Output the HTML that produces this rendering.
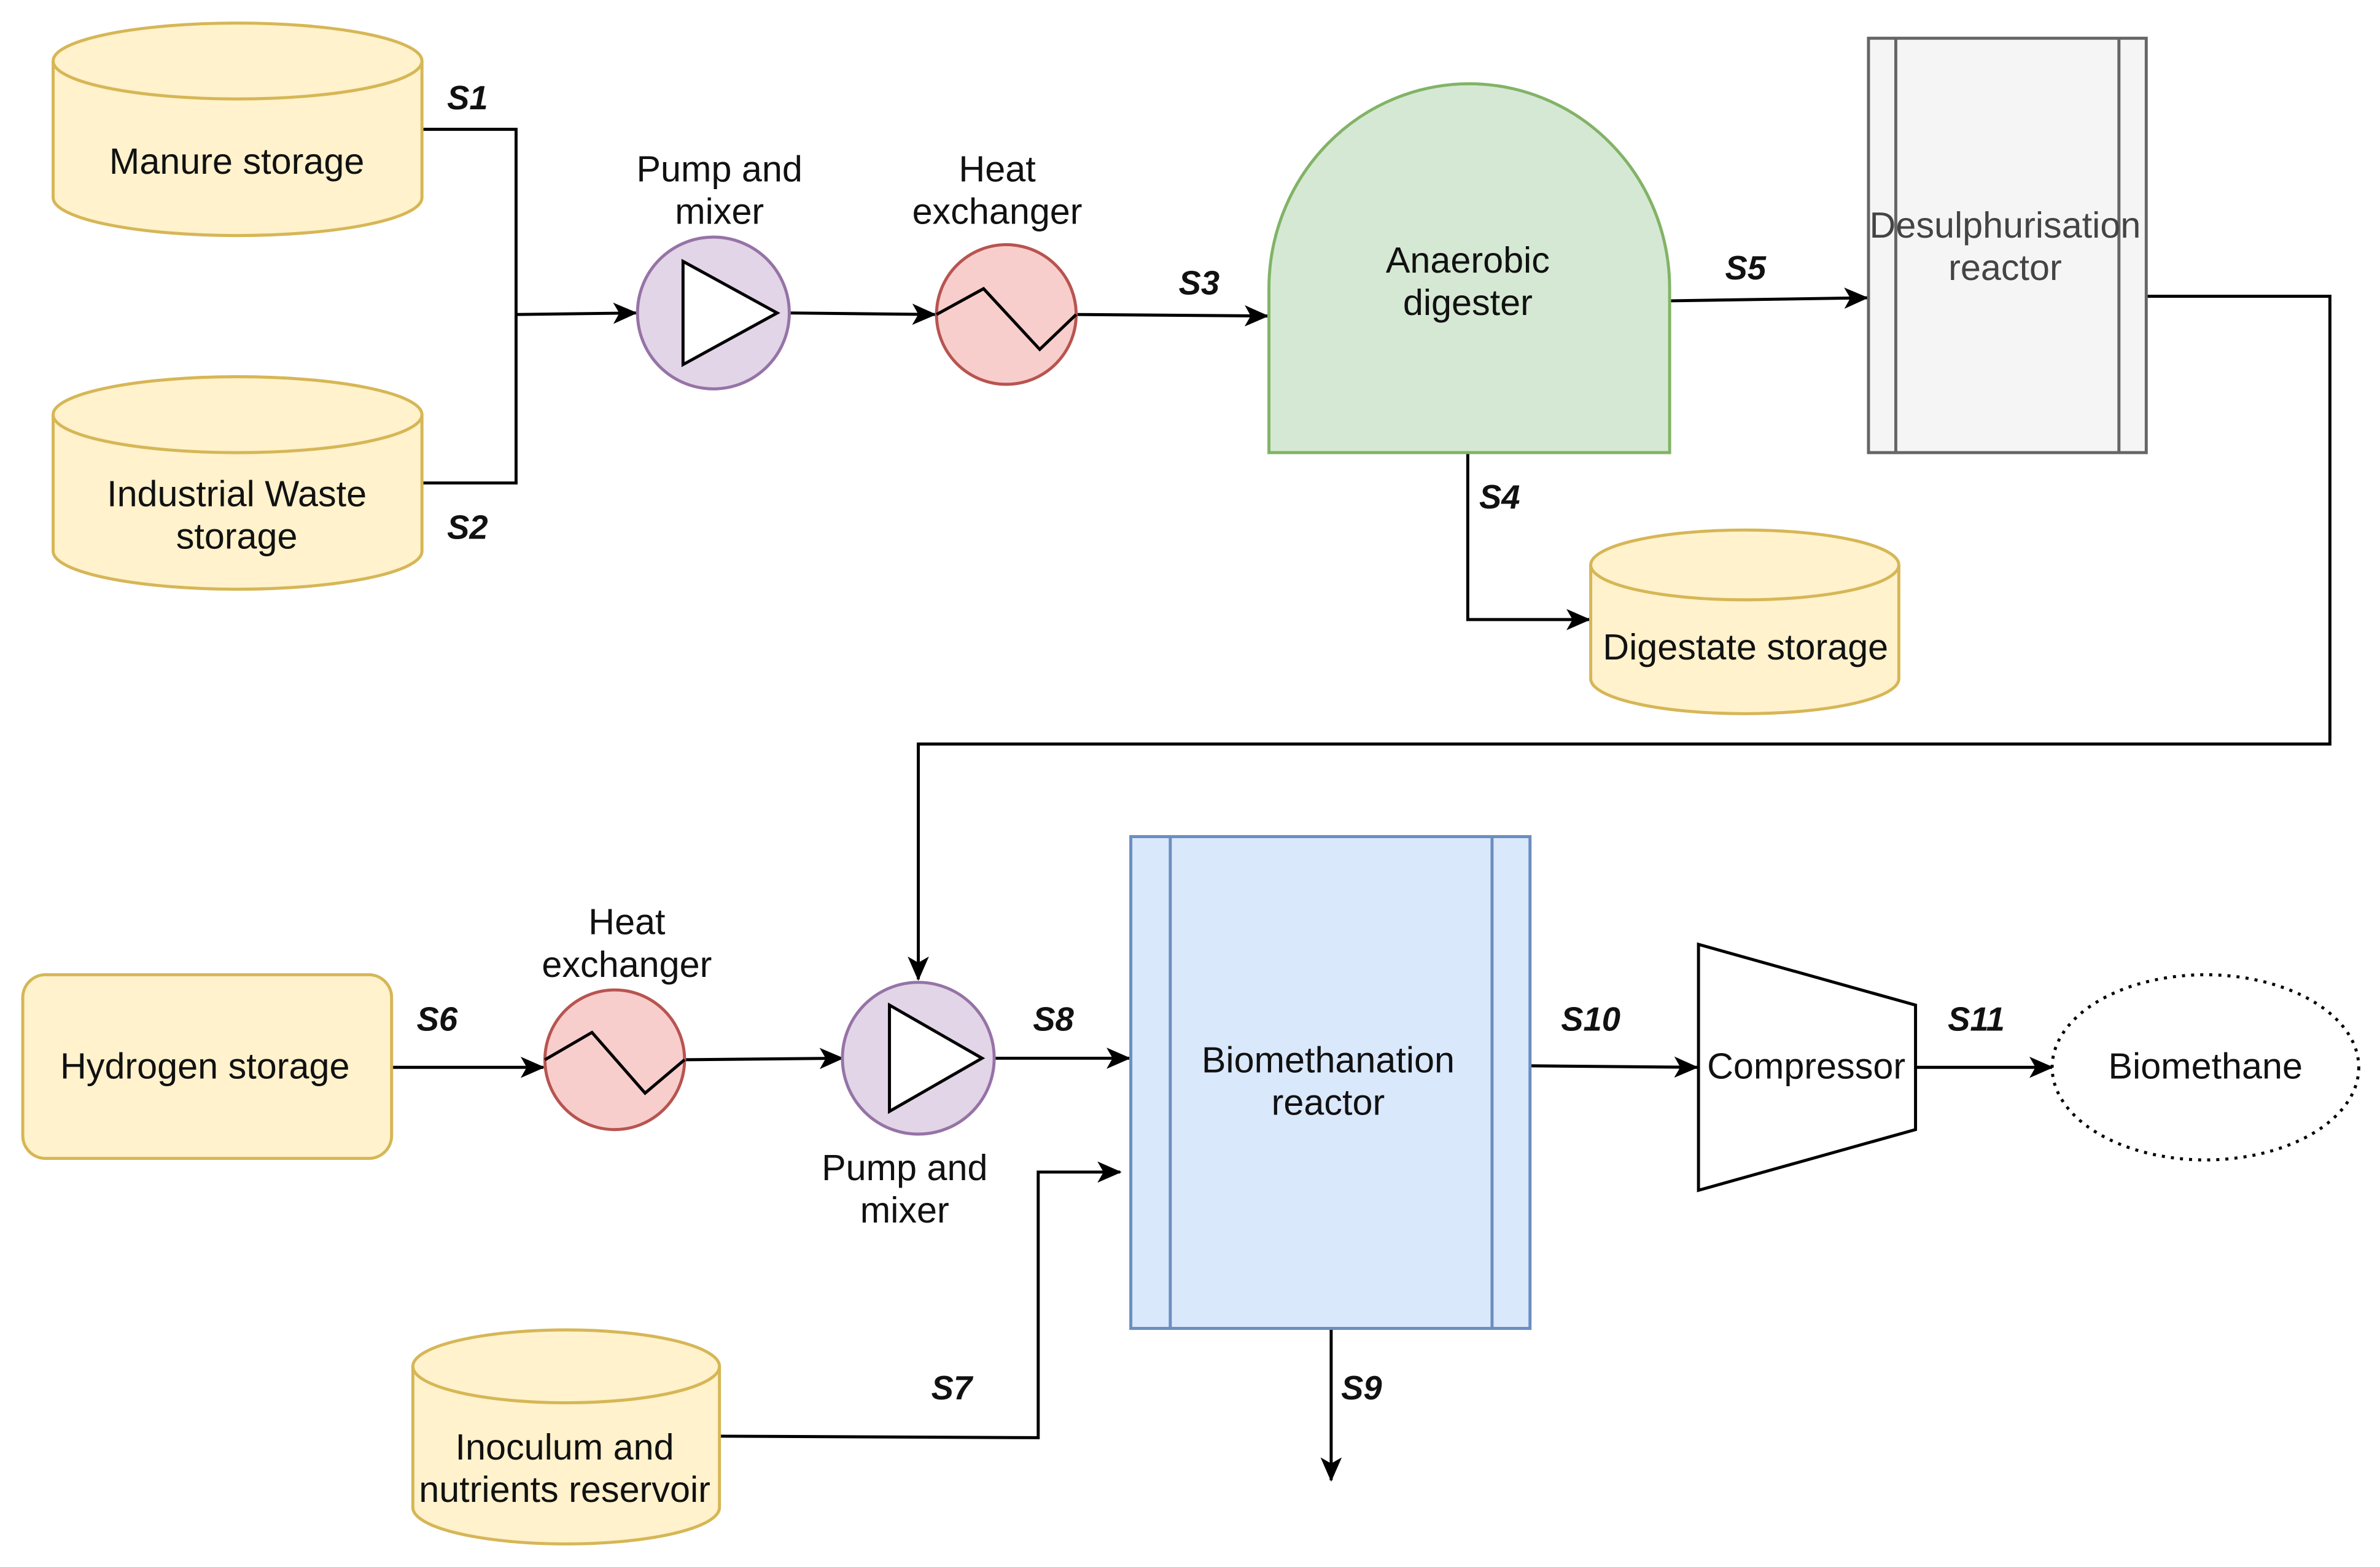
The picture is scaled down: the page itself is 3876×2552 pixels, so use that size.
<!DOCTYPE html>
<html><head><meta charset="utf-8"><style>
html,body{margin:0;padding:0;background:#fff;}
svg{display:block;}
text{font-family:"Liberation Sans",sans-serif;font-size:24px;fill:#111;text-anchor:middle;dominant-baseline:middle;}
.s{font-weight:bold;font-style:italic;font-size:22px;}
</style></head><body>
<svg width="3876" height="2552" viewBox="0 0 1568 1032" xmlns="http://www.w3.org/2000/svg">
<defs>
<marker id="a" markerWidth="16" markerHeight="14" refX="15" refY="7" orient="auto" markerUnits="userSpaceOnUse">
<path d="M0,0 L16,7 L0,14 L4,7 Z" fill="#000"/></marker>
</defs>
<g stroke="#000" stroke-width="2" fill="none">
<polyline points="278,85 340,85 340,318 278,318"/>
<line x1="340" y1="207" x2="419" y2="206" marker-end="url(#a)"/>
<line x1="520" y1="206" x2="616" y2="207" marker-end="url(#a)"/>
<line x1="709" y1="207" x2="835" y2="208" marker-end="url(#a)"/>
<line x1="1100" y1="198" x2="1230" y2="196" marker-end="url(#a)"/>
<polyline points="1414,195 1535,195 1535,490 605,490 605,645" marker-end="url(#a)"/>
<polyline points="967,298 967,408 1047,408" marker-end="url(#a)"/>
<line x1="258" y1="703" x2="358" y2="703" marker-end="url(#a)"/>
<line x1="451" y1="698" x2="555" y2="697" marker-end="url(#a)"/>
<line x1="655" y1="697" x2="744" y2="697" marker-end="url(#a)"/>
<line x1="1008" y1="702" x2="1118" y2="703" marker-end="url(#a)"/>
<line x1="1262" y1="703" x2="1352" y2="703" marker-end="url(#a)"/>
<polyline points="474,946 684,947 684,772 738,772" marker-end="url(#a)"/>
<line x1="877" y1="875" x2="877" y2="975" marker-end="url(#a)"/>
</g>
<g fill="#fff2cc" stroke="#d6b656" stroke-width="2">
<path d="M35,40 V130 A121.5,25 0 0 0 278,130 V40"/><ellipse cx="156.5" cy="40" rx="121.5" ry="25"/>
<path d="M35,273 V363 A121.5,25 0 0 0 278,363 V273"/><ellipse cx="156.5" cy="273" rx="121.5" ry="25"/>
<path d="M1048,372 V447 A101.5,23 0 0 0 1251,447 V372"/><ellipse cx="1149.5" cy="372" rx="101.5" ry="23"/>
<path d="M272,900 V993 A101,24 0 0 0 474,993 V900"/><ellipse cx="373" cy="900" rx="101" ry="24"/>
<rect x="15" y="642" width="243" height="121" rx="15"/>
</g>
<g fill="#e1d5e7" stroke="#9673a6" stroke-width="2">
<circle cx="470" cy="206" r="50"/><circle cx="605" cy="697" r="50"/></g>
<g fill="#fff" stroke="#000" stroke-width="2">
<polygon points="450,172 450,240 512,206"/><polygon points="586,662 586,732 647,697"/></g>
<g fill="#f8cecc" stroke="#b85450" stroke-width="2">
<circle cx="663" cy="207" r="46"/><circle cx="405" cy="698" r="46"/></g>
<g fill="none" stroke="#000" stroke-width="2">
<polyline points="617,207 648,190 685,230 709,207"/><polyline points="359,698 390,680 425,720 451,698"/></g>
<path d="M836,298 V190 A132,135 0 0 1 1100,190 V298 Z" fill="#d5e8d4" stroke="#82b366" stroke-width="2"/>
<rect x="1231" y="25" width="183" height="273" fill="#f5f5f5" stroke="#666" stroke-width="2"/>
<line x1="1249" y1="25" x2="1249" y2="298" stroke="#666" stroke-width="2"/>
<line x1="1396" y1="25" x2="1396" y2="298" stroke="#666" stroke-width="2"/>
<rect x="745" y="551" width="263" height="324" fill="#dae8fc" stroke="#6c8ebf" stroke-width="2"/>
<line x1="771" y1="551" x2="771" y2="875" stroke="#6c8ebf" stroke-width="2"/>
<line x1="983" y1="551" x2="983" y2="875" stroke="#6c8ebf" stroke-width="2"/>
<polygon points="1119,622 1262,662 1262,744 1119,784" fill="#fff" stroke="#000" stroke-width="2"/>
<ellipse cx="1453" cy="703" rx="101" ry="61" fill="#fff" stroke="#000" stroke-width="2" stroke-dasharray="2,4"/>
<text x="156" y="108">Manure storage</text>
<text x="156" y="327">Industrial Waste</text><text x="156" y="355">storage</text>
<text x="474" y="113">Pump and</text><text x="474" y="141">mixer</text>
<text x="657" y="113">Heat</text><text x="657" y="141">exchanger</text>
<text x="967" y="173">Anaerobic</text><text x="967" y="201">digester</text>
<text x="1321" y="150" style="fill:#444">Desulphurisation</text><text x="1321" y="178" style="fill:#444">reactor</text>
<text x="1150" y="428">Digestate storage</text>
<text x="135" y="704">Hydrogen storage</text>
<text x="413" y="609">Heat</text><text x="413" y="637">exchanger</text>
<text x="596" y="771">Pump and</text><text x="596" y="799">mixer</text>
<text x="875" y="700">Biomethanation</text><text x="875" y="728">reactor</text>
<text x="1190" y="704">Compressor</text>
<text x="1453" y="704">Biomethane</text>
<text x="372" y="955">Inoculum and</text><text x="372" y="983">nutrients reservoir</text>
<text class="s" x="308" y="66">S1</text>
<text class="s" x="308" y="349">S2</text>
<text class="s" x="790" y="188">S3</text>
<text class="s" x="988" y="329">S4</text>
<text class="s" x="1150" y="178">S5</text>
<text class="s" x="288" y="673">S6</text>
<text class="s" x="627" y="916">S7</text>
<text class="s" x="694" y="673">S8</text>
<text class="s" x="897" y="916">S9</text>
<text class="s" x="1048" y="673">S10</text>
<text class="s" x="1302" y="673">S11</text>
</svg>
</body></html>
